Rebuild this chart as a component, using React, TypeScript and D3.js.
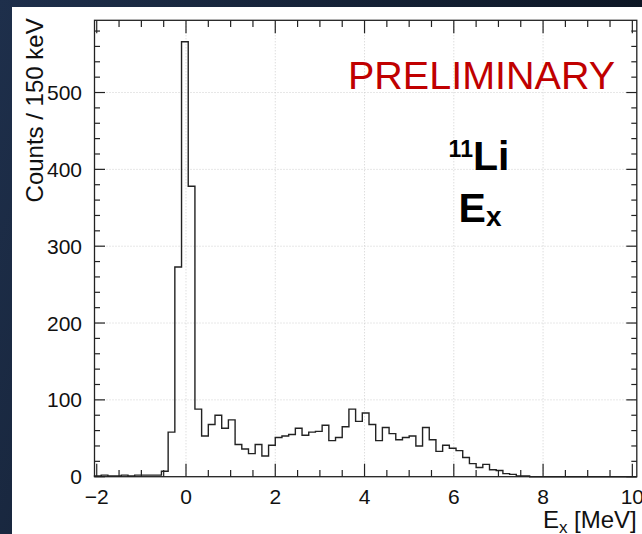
import React from "react";
import * as d3 from "d3";

// Histogram binning: 150 keV bins starting at -2.05 MeV
const binStart = -2.05;
const binWidth = 0.15;
const counts = [
  1, 2, 1, 1, 2, 1, 2, 2, 2, 2,
  7, 58, 273, 566, 378, 88, 53, 68, 80, 63,
  74, 42, 36, 30, 42, 27, 41, 51, 53, 55,
  63, 54, 58, 59, 67, 47, 51, 65, 88, 72,
  83, 68, 47, 64, 56, 48, 51, 53, 40, 64,
  48, 33, 41, 37, 34, 25, 17, 12, 16, 9,
  8, 4, 3, 1, 1, 0, 0, 0, 0, 0,
  0, 0, 0, 0, 0, 0, 0, 0, 0, 0, 0,
];

const xMajorTicks = [-2, 0, 2, 4, 6, 8, 10];
const xTickLabels = ["\u22122", "0", "2", "4", "6", "8", "10"];
const yMajorTicks = [0, 100, 200, 300, 400, 500];
const yTickLabels = ["0", "100", "200", "300", "400", "500"];

const W = 642;
const H = 534;
const FONT = "'Liberation Sans', Arial, Helvetica, sans-serif";

export default function App() {
  const xEnd = binStart + binWidth * counts.length;
  const x = d3.scaleLinear().domain([binStart, xEnd]).range([94.5, 636.8]);
  const y = d3.scaleLinear().domain([0, 594]).range([476.7, 20.3]);

  const [left, right] = x.range();
  const [bottom, top] = y.range();

  // Step outline of the histogram
  const pts: [number, number][] = [[binStart, 0]];
  counts.forEach((c, i) => {
    const a = binStart + i * binWidth;
    pts.push([a, c], [a + binWidth, c]);
  });
  pts.push([xEnd, 0]);
  const line = d3
    .line<[number, number]>()
    .x((d) => x(d[0]))
    .y((d) => y(d[1]));

  const xMinor = d3.range(-2, 10.001, 0.5).filter((v) => Math.abs(v % 2) > 1e-6);
  const yMinor = d3.range(0, 590, 20).filter((v) => v % 100 !== 0);

  const axisColor = "#222";

  return (
    <div style={{ position: "fixed", left: 0, top: 0, width: W, height: H }}>
      <svg width={W} height={H} style={{ display: "block" }}>
        <defs>
          <linearGradient id="bg" x1="0" y1="0" x2="1" y2="0.3">
            <stop offset="0" stopColor="#1e2f4b" />
            <stop offset="1" stopColor="#0c1522" />
          </linearGradient>
        </defs>
        <rect x={0} y={0} width={W} height={H} fill="url(#bg)" />
        <rect x={12} y={7} width={W - 12} height={H - 7} fill="#ffffff" />

        {/* grid */}
        <g stroke="#cfcfcf" strokeWidth={1} strokeDasharray="1,2">
          {xMajorTicks
            .filter((v) => v > -2 && v < 10)
            .map((v) => (
              <line key={"gx" + v} x1={x(v)} x2={x(v)} y1={top} y2={bottom} />
            ))}
          {yMajorTicks
            .filter((v) => v > 0)
            .map((v) => (
              <line key={"gy" + v} x1={left} x2={right} y1={y(v)} y2={y(v)} />
            ))}
        </g>

        {/* histogram */}
        <path d={line(pts) ?? ""} fill="none" stroke="#222" strokeWidth={1.4} />

        {/* frame */}
        <rect
          x={left}
          y={top}
          width={right - left}
          height={bottom - top}
          fill="none"
          stroke={axisColor}
          strokeWidth={1.3}
        />

        {/* x ticks, bottom and top; y ticks, left and right */}
        <g stroke={axisColor} strokeWidth={1.2}>
          {xMajorTicks.map((v) => (
            <g key={"xt" + v}>
              <line x1={x(v)} x2={x(v)} y1={bottom} y2={bottom - 13} />
              <line x1={x(v)} x2={x(v)} y1={top} y2={top + 13} />
            </g>
          ))}
          {xMinor.map((v) => (
            <g key={"xm" + v}>
              <line x1={x(v)} x2={x(v)} y1={bottom} y2={bottom - 6.7} />
              <line x1={x(v)} x2={x(v)} y1={top} y2={top + 6.7} />
            </g>
          ))}
          {yMajorTicks.map((v) => (
            <g key={"yt" + v}>
              <line x1={left} x2={left + 10.5} y1={y(v)} y2={y(v)} />
              <line x1={right} x2={right - 10.5} y1={y(v)} y2={y(v)} />
            </g>
          ))}
          {yMinor.map((v) => (
            <g key={"ym" + v}>
              <line x1={left} x2={left + 5.5} y1={y(v)} y2={y(v)} />
              <line x1={right} x2={right - 5.5} y1={y(v)} y2={y(v)} />
            </g>
          ))}
        </g>

        {/* tick labels */}
        <g fontFamily={FONT} fontSize={21} fill="#111">
          {xMajorTicks.map((v, i) => (
            <text key={"xl" + v} x={x(v)} y={504} textAnchor="middle">
              {xTickLabels[i]}
            </text>
          ))}
          {yMajorTicks.map((v, i) => (
            <text key={"yl" + v} x={82} y={y(v) + 7.5} textAnchor="end">
              {yTickLabels[i]}
            </text>
          ))}
        </g>

        {/* axis titles */}
        <text
          fontFamily={FONT}
          fontSize={24}
          fill="#111"
          textAnchor="end"
          transform={`translate(42.5, ${top - 2}) rotate(-90)`}
        >
          Counts / 150 keV
        </text>
        <text fontFamily={FONT} fontSize={24} fill="#111" x={right} y={528} textAnchor="end">
          E
          <tspan fontSize={17} dy={5}>x</tspan>
          <tspan dy={-5}> [MeV]</tspan>
        </text>

        {/* annotations */}
        <text fontFamily={FONT} fontSize={39.5} fill="#c00000" x={348} y={88.5}>
          PRELIMINARY
        </text>
        <text fontFamily={FONT} fontWeight="bold" fill="#000" x={479} y={170} textAnchor="middle">
          <tspan fontSize={23} dy={-13.5}>11</tspan>
          <tspan fontSize={41} dy={13.5}>Li</tspan>
        </text>
        <text fontFamily={FONT} fontWeight="bold" fill="#000" x={480} y={221.5} textAnchor="middle">
          <tspan fontSize={41}>E</tspan>
          <tspan fontSize={28} dy={4}>x</tspan>
        </text>
      </svg>
    </div>
  );
}
